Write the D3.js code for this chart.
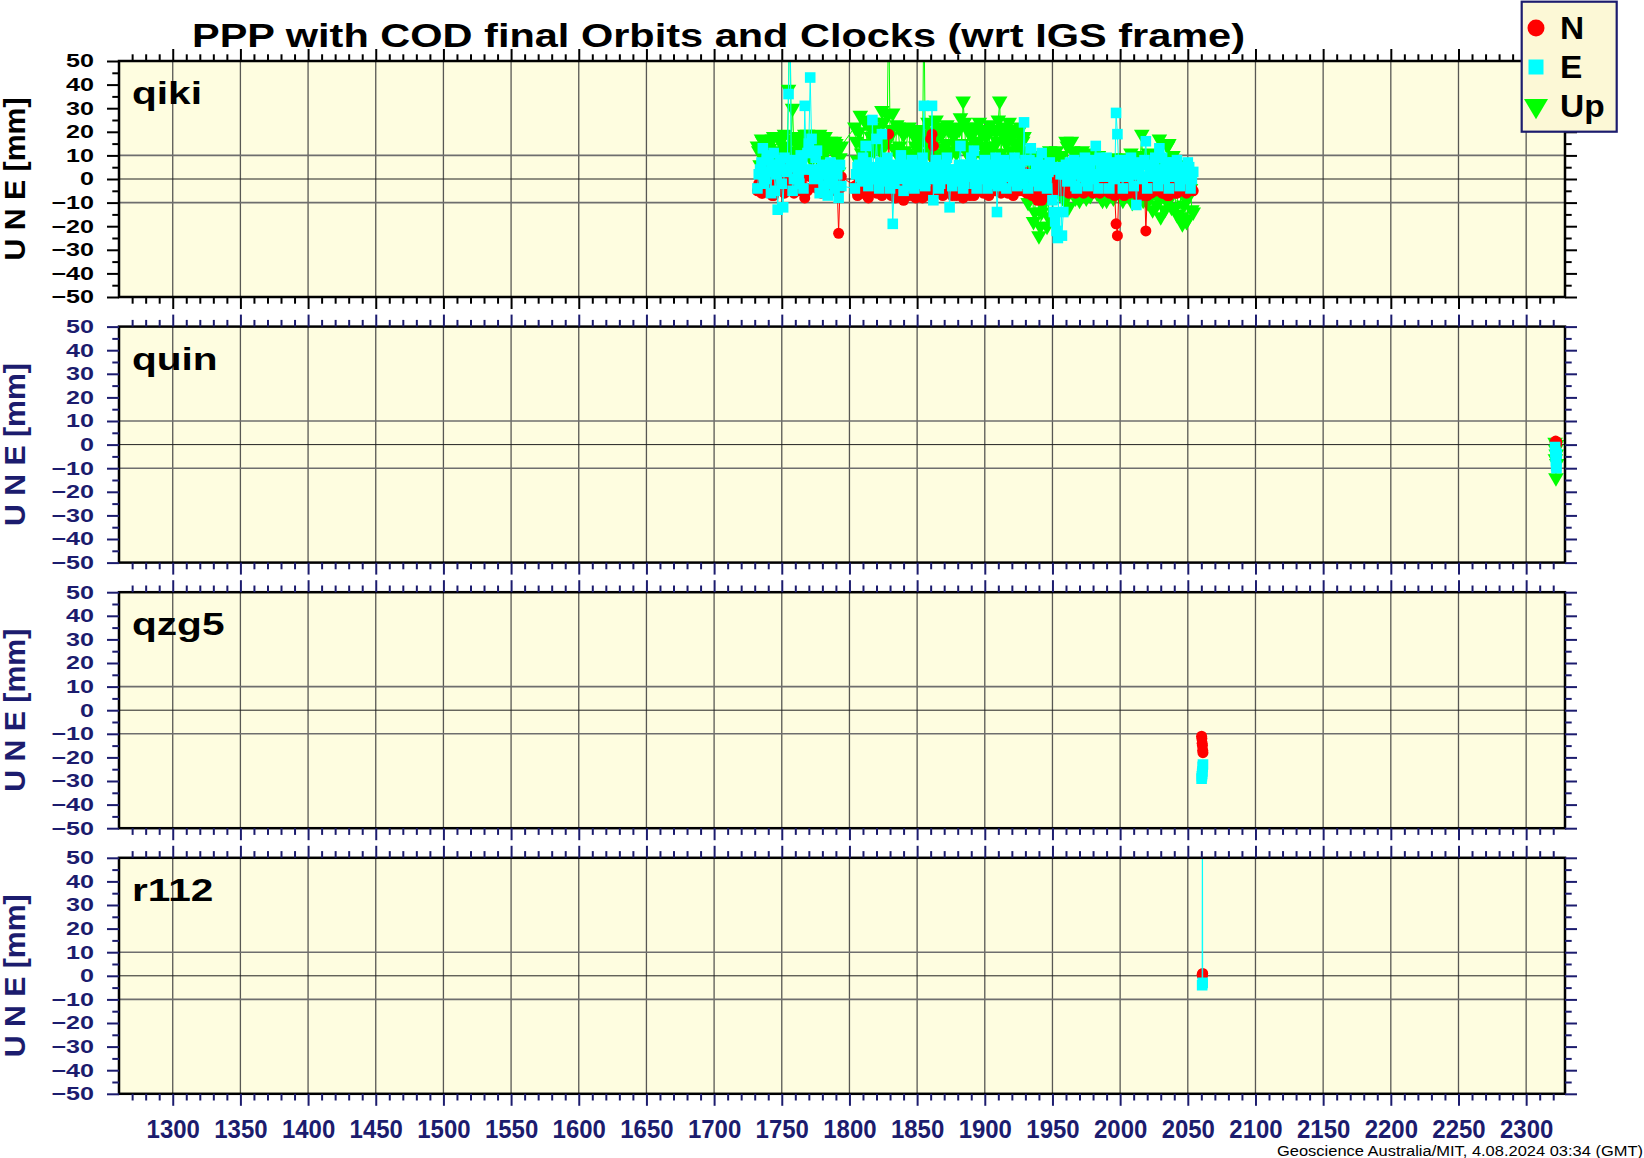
<!DOCTYPE html>
<html><head><meta charset="utf-8">
<script src="https://cdn.jsdelivr.net/npm/d3@7/dist/d3.min.js"></script>
<style>
html,body{margin:0;padding:0;background:#fff;}
svg{display:block;font-family:"Liberation Sans",Arial,Helvetica,sans-serif;}
</style></head><body>
<svg id="chart" width="1644" height="1158"></svg>
<script>
// ---------------- data ----------------
const titleText = "PPP with COD final Orbits and Clocks (wrt IGS frame)";
const footerText = "Geoscience Australia/MIT, 4.08.2024 03:34 (GMT)";
const yAxisTitle = "U N E [mm]";
const stations = ["qiki", "quin", "qzg5", "r112"];
const seriesNames = ["N", "E", "Up"];
const xDomain = [1260.3, 2328.7];
const xTickValues = [1300,1350,1400,1450,1500,1550,1600,1650,1700,1750,1800,1850,1900,1950,2000,2050,2100,2150,2200,2250,2300];
const xTickLabels = ["1300","1350","1400","1450","1500","1550","1600","1650","1700","1750","1800","1850","1900","1950","2000","2050","2100","2150","2200","2250","2300"];
const yDomain = [-50, 50];
const yTickValues = [50,40,30,20,10,0,-10,-20,-30,-40,-50];
const yTickLabels = ["50","40","30","20","10","0","\u221210","\u221220","\u221230","\u221240","\u221250"];
const yMinorTicks = [45,35,25,15,5,-5,-15,-25,-35,-45];
const yGridValues = [10, 0, -10];

// qiki, even-week samples (plus outliers)
const qikiWeeks = [
 1732,1734,1736,1738,1740,1742,1744,1746,1747,1748,1750,1751,1752,1754,1755,1756,1758,1760,1762,1764,
 1766,1767,1768,1770,1771,1772,1774,1776,1778,1780,1782,1784,1786,1788,1790,1792,1793,1794,
 1804,1806,1808,1810,1812,1814,1816,1817,1818,1820,
 1822,1824,1826,1828,1829,1830,1832,1834,1836,1838,
 1840,1842,1844,1846,1848,1850,1852,1854,1855,1856,
 1858,1860,1861,1862,1864,1866,1868,1870,1872,1874,
 1876,1878,1880,1882,1884,1886,1888,1890,1892,1894,
 1896,1898,1900,1902,1904,1906,1908,1909,1910,1911,
 1912,1914,1916,1918,1920,1922,1924,1926,1928,1929,
 1930,1932,1934,1936,1938,1940,1942,1944,1946,1948,
 1950,1952,1954,1956,1958,1960,1962,1964,1966,1968,
 1970,1972,1974,1976,1978,1980,1982,1984,1986,1988,
 1990,1992,1994,1996,1997,1998,2000,2002,2004,2006,
 2008,2010,2012,2014,2016,2018,2019,2020,2022,2024,
 2026,2028,2029,2030,2032,2034,2036,2038,2040,2042,
 2044,2046,2048,2050,2052,2054];
const qikiN = [
 -5,1,-6,2,-4,5,-7,0,-3,3,-5,2,-6,5,-2,3,-4,1,-5,-2,
 3,-8,2,-4,1,4,-2,-4,0,-5,2,-4,6,-3,4,-23,-4,1,
 -3,-7,1,-5,3,-8,-1,-4,2,-6,
 -2,-7,1,-4,19,-6,-2,-8,1,-5,
 -9,-3,2,-7,-2,-6,1,-8,-4,0,
 -5,17,19,14,-3,2,-6,0,-4,3,
 -7,-2,-5,1,-8,-2,2,-6,-7,0,
 -4,2,-5,0,-3,3,-5,-1,-4,2,
 -6,0,-3,2,-4,2,-4,0,-5,-1,
 3,-3,1,-6,-8,-7,-9,-4,0,-3,
 2,-4,0,-5,1,-3,-6,0,-4,2,
 -5,-1,-4,1,-3,-6,-5,0,-4,2,
 -3,-6,-1,-7,-19,-24,-6,-2,-5,1,
 -4,-2,-6,-3,-7,-2,-22,-7,-4,0,
 -5,-2,-4,-1,-6,-3,-7,-5,-3,-6,
 -2,-5,0,-4,-2,-5];
const qikiE = [
 -4,4,13,0,8,-6,11,2,-13,6,-2,-12,9,3,36,80,-5,7,1,10,
 -4,31,4,15,43,17,0,12,-6,6,2,-7,7,-2,3,-8,6,-3,
 -4,5,1,9,14,-3,4,25,0,17,
 -4,19,3,9,0,-4,-19,6,1,10,
 -5,4,0,8,-4,5,1,9,31,-3,
 4,0,31,-9,8,-4,5,1,9,-12,
 -3,4,0,14,-4,6,1,9,12,-4,
 4,0,8,-4,5,1,9,-14,-3,4,
 0,8,-4,5,1,9,-3,4,0,24,
 8,-4,13,0,5,-3,11,1,-4,7,
 -9,-18,-25,2,-14,6,4,0,8,-4,
 5,1,9,-3,4,0,14,-4,6,1,
 9,-4,4,0,28,19,8,-4,5,1,
 9,-3,-11,4,0,8,16,-4,5,1,
 9,-3,13,4,0,7,-4,5,1,8,
 -3,4,0,7,-4,3];
const qikiU = [
 14,6,16,-2,15,9,18,3,12,17,8,14,19,10,38,75,30,16,5,18,
 10,19,4,16,12,8,18,2,19,10,18,6,16,12,15,3,9,14,
 22,8,27,14,24,10,18,24,12,22,
 16,29,9,27,75,18,28,12,22,8,
 19,11,22,6,18,13,21,9,75,16,
 24,10,20,14,25,7,19,13,23,10,
 20,15,22,26,33,12,22,8,20,15,
 24,10,21,14,23,8,20,16,25,33,
 11,22,15,24,9,21,13,22,16,18,
 9,-10,6,-18,10,-24,-14,8,-20,12,
 -6,10,-3,9,-8,16,-12,16,-6,9,
 -9,12,-4,8,-7,6,-3,10,-8,5,
 -9,7,-5,9,-6,4,-4,-9,8,-4,
 11,-8,6,-3,19,-6,9,-10,7,-13,
 10,-8,17,-16,5,-9,15,-12,4,-15,
 3,-19,-8,-17,-4,-14];

// qiki, odd-week samples
const qikiWeeks2 = [
 1733,1735,1737,1739,1741,1743,1745,1749,1753,1757,
 1759,1761,1763,1765,1769,1773,1775,1777,1779,1781,
 1783,1785,1787,1789,1791,
 1805,1807,1809,1811,1813,1815,1819,1821,1823,1825,
 1827,1831,1833,1835,1837,1839,1841,1843,1845,1847,
 1849,1851,1853,1857,1859,1863,1865,1867,1869,1871,
 1873,1875,1877,1879,1881,1883,1885,1887,1889,1891,
 1893,1895,1897,1899,1901,1903,1905,1907,1913,1915,
 1917,1919,1921,1923,1925,1927,1931,1933,1935,1937,
 1939,1941,1943,1945,1947,1949,1951,1953,1955,1957,
 1959,1961,1963,1965,1967,1969,1971,1973,1975,1977,
 1979,1981,1983,1985,1987,1989,1991,1993,1995,1999,
 2001,2003,2005,2007,2009,2011,2013,2015,2017,2021,
 2023,2025,2027,2031,2033,2035,2037,2039,2041,2043,
 2045,2047,2049,2051,2053];
const qikiN2 = [
 -2,-6,0,-4,2,-7,-3,1,-4,0,
 -6,2,-3,1,-5,1,-3,2,-6,0,
 -3,3,-5,1,-4,
 -5,0,-6,-2,-7,1,-4,-1,-6,0,
 -3,-7,-1,-5,0,-6,-2,-7,1,-4,
 -8,-2,-5,-1,-7,0,-5,-1,-7,-3,
 1,-6,-2,-7,-3,0,-5,-1,-7,-3,
 1,-5,-2,-6,-1,-7,-2,0,-5,-1,
 -6,-2,-7,1,-5,-2,-6,-4,-7,-3,
 -9,-5,-8,-3,-6,-2,-5,0,-4,-1,
 -5,0,-4,-1,-6,0,-3,-6,0,-5,
 -2,-4,1,-6,-2,-5,0,-4,-2,-5,
 -1,-7,-3,-6,0,-4,-7,-3,-6,-3,
 -6,-2,-5,-6,-2,-7,-4,-1,-6,-3,
 -5,-2,-6,-1,-4];
const qikiE2 = [
 2,7,-2,10,3,6,-5,8,4,8,
 0,5,-2,8,11,4,9,1,4,-3,
 5,0,4,-4,2,
 2,6,-1,3,7,0,5,2,7,-1,
 5,2,-2,4,0,6,1,-3,5,2,
 -2,6,2,5,1,5,1,-2,3,6,
 0,4,-1,3,6,2,-2,3,6,2,
 -2,6,2,5,1,-2,3,6,3,1,
 6,2,-1,6,2,-2,2,8,2,-1,
 7,3,6,0,3,4,-14,-22,5,-24,
 2,-1,7,2,-3,3,7,3,-1,5,
 1,8,2,9,1,5,2,7,1,5,
 1,6,1,8,2,6,2,7,1,6,
 2,5,1,9,2,4,1,7,2,5,
 1,4,1,5,0];
const qikiU2 = [
 12,17,10,15,13,17,11,16,13,17,
 12,18,14,16,19,17,14,18,13,16,
 12,15,13,16,12,
 16,20,11,25,15,22,13,19,12,24,
 15,21,13,23,14,20,12,21,10,20,
 14,18,11,19,13,17,22,11,20,15,
 21,12,18,11,21,15,24,14,19,12,
 22,16,20,13,18,11,21,14,19,16,
 20,12,19,15,20,11,12,-6,9,-14,
 6,-20,-11,10,-16,10,-4,12,-6,10,
 -9,14,-5,12,-8,10,-6,9,-8,11,
 -4,7,-6,8,-9,6,-6,8,-8,6,
 -7,9,-6,7,-10,8,-5,10,-9,11,
 -6,9,-11,8,-13,14,-8,10,-12,6,
 -16,-11,-18,-7,-13];

const quinWeeks = [2321.4,2321.6,2321.8,2322.0,2322.2,2322.4,2322.6];
const quinN = [1,0,1.5,0.5,1,0,1];
const quinE = [-1,-3,-5,-7,-9,-10,-4];
const quinU = [1,-6,-2,-14,-4,0,-8];

const qzg5Weeks = [2060.2,2060.4,2060.6,2060.8,2061.0,2061.2];
const qzg5N = [-11,-12,-14,-15,-17,-18];
const qzg5E = [-29,-28,-27,-26,-24,-23];
const qzg5U = [null,null,null,null,null,null];

const r112Weeks = [2060.6,2060.8,2061.0];
const r112N = [0.5,0,1];
const r112E = [-4,90,-3];
const r112U = [null,null,null];

// ---------------- layout / style ----------------
const NAVY = "#1c1c6e";
const BG = "#fefde0";
const colN = "#ff0000", colE = "#00ffff", colU = "#00ff00";
const plotLeft = 119, plotRight = 1565, panelTop0 = 61, panelStep = 265.6, panelH = 236;

function rows(weeks, N, E, U) { return weeks.map((w,i) => ({w: w, N: N[i], E: E[i], U: U[i]})); }
const qikiRows = rows(qikiWeeks, qikiN, qikiE, qikiU)
  .concat(rows(qikiWeeks2, qikiN2, qikiE2, qikiU2))
  .sort((a,b) => a.w - b.w);

const panels = [
  {name: stations[0], rows: qikiRows},
  {name: stations[1], rows: rows(quinWeeks, quinN, quinE, quinU)},
  {name: stations[2], rows: rows(qzg5Weeks, qzg5N, qzg5E, qzg5U)},
  {name: stations[3], rows: rows(r112Weeks, r112N, r112E, r112U)}
];

const svg = d3.select("#chart");
svg.append("rect").attr("width",1644).attr("height",1158).attr("fill","#fff");

const x = d3.scaleLinear().domain(xDomain).range([plotLeft, plotRight]);
const xMinorTicks = d3.range(1270, 2329, 10).filter(v => v % 50 !== 0);

const circleSym = d3.symbol(d3.symbolCircle, Math.PI*5.5*5.5)();
const squareSym = d3.symbol(d3.symbolSquare, 10.6*10.6)();
const triSym = "M-7.8,-4.5L7.8,-4.5L0,9Z";

function styleAxis(sel, color) {
  sel.select(".domain").remove();
  sel.selectAll(".tick line").attr("stroke", color).attr("stroke-width", 2);
  sel.selectAll(".tick text").filter(function(){ return !this.textContent; }).remove();
}

function drawSeries(g, y, rs, key, color, shape) {
  const pts = rs.filter(d => d[key] !== null && d[key] !== undefined);
  if (!pts.length) return;
  g.append("path").datum(pts)
    .attr("d", d3.line().x(d => x(d.w)).y(d => y(d[key])))
    .attr("fill","none").attr("stroke", color).attr("stroke-width", 1);
  g.append("g").selectAll("path").data(pts).join("path")
    .attr("transform", d => `translate(${x(d.w)},${y(d[key])})`)
    .attr("d", shape).attr("fill", color);
}

panels.forEach((p, i) => {
  const top = panelTop0 + i*panelStep;
  const bottom = top + panelH;
  const y = d3.scaleLinear().domain(yDomain).range([bottom, top]);
  const axCol = i === 0 ? "#000" : NAVY;
  const g = svg.append("g");

  g.append("rect").attr("x", plotLeft).attr("y", top).attr("width", plotRight-plotLeft).attr("height", panelH).attr("fill", BG);

  // grid
  g.append("g").selectAll("line").data(xTickValues).join("line")
    .attr("x1", d => x(d)).attr("x2", d => x(d)).attr("y1", top).attr("y2", bottom)
    .attr("stroke", "#3c3c3c").attr("stroke-width", 1.3).attr("opacity", 0.85);
  g.append("g").selectAll("line").data(yGridValues).join("line")
    .attr("x1", plotLeft).attr("x2", plotRight).attr("y1", d => y(d)).attr("y2", d => y(d))
    .attr("stroke", d => d === 0 ? "#222" : "#6e6e6e").attr("stroke-width", d => d === 0 ? 1 : 1.6);

  // data
  const cid = "clip" + i;
  svg.append("clipPath").attr("id", cid).append("rect")
    .attr("x", plotLeft).attr("y", top).attr("width", plotRight-plotLeft).attr("height", panelH);
  const dg = g.append("g").attr("clip-path", `url(#${cid})`);
  drawSeries(dg, y, p.rows, "U", colU, triSym);
  drawSeries(dg, y, p.rows, "N", colN, circleSym);
  drawSeries(dg, y, p.rows, "E", colE, squareSym);

  // frame
  g.append("rect").attr("x", plotLeft).attr("y", top).attr("width", plotRight-plotLeft).attr("height", panelH)
    .attr("fill","none").attr("stroke","#000").attr("stroke-width", 2.5);

  // left axis
  const yl = g.append("g").attr("transform", `translate(${plotLeft},0)`)
    .call(d3.axisLeft(y).tickValues(yTickValues).tickSize(12).tickPadding(13).tickFormat((d,k) => yTickLabels[k]));
  styleAxis(yl, axCol);
  const ysx = 1.35;
  yl.selectAll(".tick text").attr("fill", axCol).attr("font-size", 18.6).attr("font-weight","bold")
    .attr("font-family", '"Liberation Sans",Arial,sans-serif')
    .attr("x", -25/ysx).attr("transform", `scale(${ysx},1)`);
  const ylm = g.append("g").attr("transform", `translate(${plotLeft},0)`)
    .call(d3.axisLeft(y).tickValues(yMinorTicks).tickSize(6.7).tickFormat(""));
  styleAxis(ylm, axCol);

  // right axis
  const yr = g.append("g").attr("transform", `translate(${plotRight},0)`)
    .call(d3.axisRight(y).tickValues(yTickValues).tickSize(12).tickFormat(""));
  styleAxis(yr, axCol);
  const yrm = g.append("g").attr("transform", `translate(${plotRight},0)`)
    .call(d3.axisRight(y).tickValues(yMinorTicks).tickSize(6.7).tickFormat(""));
  styleAxis(yrm, axCol);

  // top axis
  const xt = g.append("g").attr("transform", `translate(0,${top})`)
    .call(d3.axisTop(x).tickValues(xTickValues).tickSize(12).tickFormat(""));
  styleAxis(xt, axCol);
  const xtm = g.append("g").attr("transform", `translate(0,${top})`)
    .call(d3.axisTop(x).tickValues(xMinorTicks).tickSize(6.7).tickFormat(""));
  styleAxis(xtm, axCol);

  // bottom axis
  const isLast = i === panels.length - 1;
  const xb = g.append("g").attr("transform", `translate(0,${bottom})`)
    .call(d3.axisBottom(x).tickValues(xTickValues).tickSize(12).tickFormat((d,k) => isLast ? xTickLabels[k] : ""));
  styleAxis(xb, axCol);
  if (isLast) {
    const xsx = 0.94;
    xb.selectAll(".tick text").attr("fill", NAVY).attr("font-size", 25.5).attr("font-weight","bold")
      .attr("font-family", '"Liberation Sans",Arial,sans-serif')
      .attr("y", 44).attr("dy", 0).attr("x", 0).attr("transform", `scale(${xsx},1)`);
  }
  const xbm = g.append("g").attr("transform", `translate(0,${bottom})`)
    .call(d3.axisBottom(x).tickValues(xMinorTicks).tickSize(6.7).tickFormat(""));
  styleAxis(xbm, axCol);

  // station label
  g.append("text").attr("transform", `translate(132,${top+43}) scale(1.31,1)`)
    .attr("font-size", 31).attr("font-weight","bold").attr("fill","#000").text(p.name);

  // y axis title
  g.append("text").attr("transform", `translate(24.5,${top+panelH/2}) rotate(-90)`)
    .attr("text-anchor","middle").attr("font-size", 29).attr("font-weight","bold")
    .attr("fill", axCol).attr("textLength", 163).attr("lengthAdjust","spacingAndGlyphs").text(yAxisTitle);
});

// title
svg.append("text").attr("x", 718.5).attr("y", 46.5).attr("text-anchor","middle")
  .attr("font-size", 32.5).attr("font-weight","bold").attr("fill","#000")
  .attr("textLength", 1053).attr("lengthAdjust","spacingAndGlyphs").text(titleText);

// footer
svg.append("text").attr("x", 1643).attr("y", 1155.8).attr("text-anchor","end")
  .attr("font-size", 14).attr("fill","#000")
  .attr("textLength", 366).attr("lengthAdjust","spacingAndGlyphs").text(footerText);

// legend
const lg = svg.append("g");
lg.append("rect").attr("x", 1521.7).attr("y", 1.7).attr("width", 95).attr("height", 130)
  .attr("fill", "#fcf8d6").attr("stroke", NAVY).attr("stroke-width", 2.2);
const legendShapes = [
  d3.symbol(d3.symbolCircle, Math.PI*8.5*8.5)(),
  d3.symbol(d3.symbolSquare, 225)(),
  "M-12,-10L12,-10L0,10.3Z"
];
const legendColors = [colN, colE, colU];
const legendY = [28, 67, 109];
const legendTextY = [39, 78.3, 116.7];
seriesNames.forEach((s, k) => {
  lg.append("path").attr("transform", `translate(1536,${legendY[k]})`).attr("d", legendShapes[k]).attr("fill", legendColors[k]);
  lg.append("text").attr("transform", `translate(1560,${legendTextY[k]}) scale(1.08,1)`)
    .attr("font-size", 31).attr("font-weight","bold").attr("fill","#000").text(s);
});
</script>
</body></html>
